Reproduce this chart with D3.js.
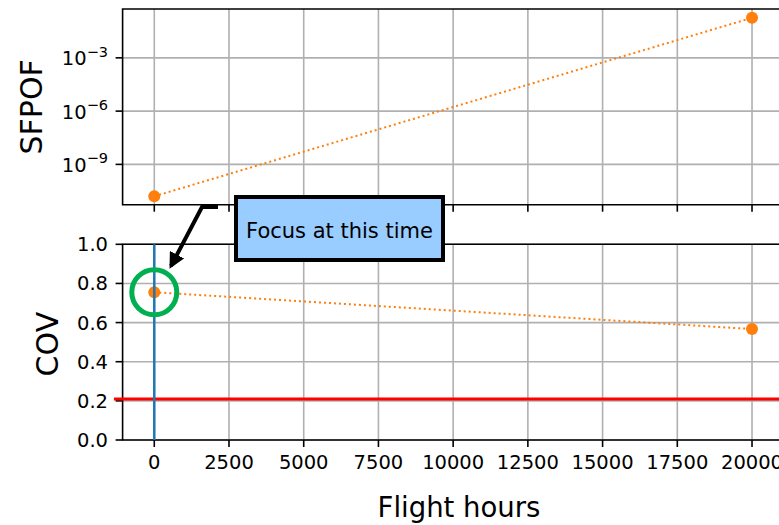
<!DOCTYPE html>
<html>
<head>
<meta charset="utf-8">
<script src="https://cdn.jsdelivr.net/npm/d3@7"></script>
<style>
  body { margin: 0; background: #fff; }
  text { font-family: "DejaVu Sans", sans-serif; fill: #000; }
</style>
</head>
<body>
<script>
// data
var hours = [0, 20000];
var sfpof = [1.6e-11, 0.18];
var cov = [0.755, 0.567];
var xTicks = [0, 2500, 5000, 7500, 10000, 12500, 15000, 17500, 20000];
var sfpofTicks = [-3, -6, -9];
var covTicks = [0, 0.2, 0.4, 0.6, 0.8, 1.0];
var covLimit = 0.21;
var focusHour = 0;
var focusLabel = "Focus at this time";

var width = 779, height = 525;

var svg = d3.select("body").append("svg")
    .attr("width", width)
    .attr("height", height);

// scales
var x = d3.scaleLinear().domain([-1060, 21060]).range([122.6, 783.7]);
var yTop = d3.scaleLog().domain([Math.pow(10, -11.27), Math.pow(10, -0.25)]).range([204.7, 9]);
var yBot = d3.scaleLinear().domain([0, 1]).range([440, 244.3]);

var grid = "#b0b0b0";
var orange = "#ff7f0e";

// grid lines top
var gTop = svg.append("g");
gTop.selectAll(".vg").data(xTicks).enter().append("line")
    .attr("x1", d => x(d)).attr("x2", d => x(d))
    .attr("y1", yTop.range()[1]).attr("y2", yTop.range()[0])
    .attr("stroke", grid).attr("stroke-width", 1.6);
gTop.selectAll(".hg").data(sfpofTicks).enter().append("line")
    .attr("x1", x.range()[0]).attr("x2", width)
    .attr("y1", d => yTop(Math.pow(10, d))).attr("y2", d => yTop(Math.pow(10, d)))
    .attr("stroke", grid).attr("stroke-width", 1.6);

// grid lines bottom
var gBot = svg.append("g");
gBot.selectAll(".vg").data(xTicks).enter().append("line")
    .attr("x1", d => x(d)).attr("x2", d => x(d))
    .attr("y1", yBot.range()[1]).attr("y2", yBot.range()[0])
    .attr("stroke", grid).attr("stroke-width", 1.6);
gBot.selectAll(".hg").data(covTicks).enter().append("line")
    .attr("x1", x.range()[0]).attr("x2", width)
    .attr("y1", d => yBot(d)).attr("y2", d => yBot(d))
    .attr("stroke", grid).attr("stroke-width", 1.6);

// spines
function spines(g, y) {
    var r = y.range();
    g.append("path")
        .attr("d", "M" + width + "," + r[1] + "H" + x.range()[0] + "V" + r[0] + "H" + width)
        .attr("fill", "none").attr("stroke", "#000").attr("stroke-width", 1.6);
}
spines(gTop, yTop);
spines(gBot, yBot);

// ticks
gTop.selectAll(".xt").data(xTicks).enter().append("line")
    .attr("x1", d => x(d)).attr("x2", d => x(d))
    .attr("y1", yTop.range()[0]).attr("y2", yTop.range()[0] + 7)
    .attr("stroke", "#000").attr("stroke-width", 1.6);
gBot.selectAll(".xt").data(xTicks).enter().append("line")
    .attr("x1", d => x(d)).attr("x2", d => x(d))
    .attr("y1", yBot.range()[0]).attr("y2", yBot.range()[0] + 7)
    .attr("stroke", "#000").attr("stroke-width", 1.6);
gBot.selectAll(".xl").data(xTicks).enter().append("text")
    .attr("x", d => x(d)).attr("y", yBot.range()[0] + 29)
    .attr("text-anchor", "middle").attr("font-size", 19.5)
    .text(d => d);

gTop.selectAll(".yt").data(sfpofTicks).enter().append("line")
    .attr("x1", x.range()[0] - 7).attr("x2", x.range()[0])
    .attr("y1", d => yTop(Math.pow(10, d))).attr("y2", d => yTop(Math.pow(10, d)))
    .attr("stroke", "#000").attr("stroke-width", 1.6);
var lt = gTop.selectAll(".yl").data(sfpofTicks).enter().append("text")
    .attr("x", 108).attr("y", d => yTop(Math.pow(10, d)) + 7.5)
    .attr("text-anchor", "end").attr("font-size", 19.5);
lt.append("tspan").text("10");
lt.append("tspan").attr("font-size", 14.5).attr("dy", -8.5).text(d => "\u2212" + (-d));

gBot.selectAll(".yt").data(covTicks).enter().append("line")
    .attr("x1", x.range()[0] - 7).attr("x2", x.range()[0])
    .attr("y1", d => yBot(d)).attr("y2", d => yBot(d))
    .attr("stroke", "#000").attr("stroke-width", 1.6);
gBot.selectAll(".yl").data(covTicks).enter().append("text")
    .attr("x", 108).attr("y", d => yBot(d) + 7)
    .attr("text-anchor", "end").attr("font-size", 19.5)
    .text(d => d.toFixed(1));

// axis labels
svg.append("text")
    .attr("transform", "translate(42," + (yTop(Math.pow(10, -5.76))) + ") rotate(-90)")
    .attr("text-anchor", "middle").attr("font-size", 30)
    .text("SFPOF");
svg.append("text")
    .attr("transform", "translate(58," + yBot(0.49) + ") rotate(-90)")
    .attr("text-anchor", "middle").attr("font-size", 30)
    .text("COV");
svg.append("text")
    .attr("x", 459).attr("y", 517)
    .attr("text-anchor", "middle").attr("font-size", 27.5)
    .text("Flight hours");

// top series
var pts = hours.map((h, i) => ({h: h, s: sfpof[i], c: cov[i]}));
gTop.append("path")
    .datum(pts)
    .attr("d", d3.line().x(d => x(d.h)).y(d => yTop(d.s)))
    .attr("fill", "none").attr("stroke", orange).attr("stroke-width", 2)
    .attr("stroke-dasharray", "2,3");
gTop.selectAll(".pt").data(pts).enter().append("circle")
    .attr("cx", d => x(d.h)).attr("cy", d => yTop(d.s)).attr("r", 6)
    .attr("fill", orange);

// bottom series
gBot.append("line")
    .attr("x1", x(-1350)).attr("x2", width)
    .attr("y1", yBot(covLimit)).attr("y2", yBot(covLimit))
    .attr("stroke", "#ff0000").attr("stroke-width", 3);
gBot.append("path")
    .datum(pts)
    .attr("d", d3.line().x(d => x(d.h)).y(d => yBot(d.c)))
    .attr("fill", "none").attr("stroke", orange).attr("stroke-width", 2)
    .attr("stroke-dasharray", "2,3");
gBot.selectAll(".pt").data(pts).enter().append("circle")
    .attr("cx", d => x(d.h)).attr("cy", d => yBot(d.c)).attr("r", 6)
    .attr("fill", orange);
gBot.append("line")
    .attr("x1", x(focusHour)).attr("x2", x(focusHour))
    .attr("y1", yBot.range()[1]).attr("y2", yBot.range()[0])
    .attr("stroke", "#1f77b4").attr("stroke-width", 2.5);
gBot.append("circle")
    .attr("cx", x(focusHour)).attr("cy", yBot(cov[0])).attr("r", 22.5)
    .attr("fill", "none").attr("stroke", "#00b050").attr("stroke-width", 5);

// annotation
svg.append("defs").append("marker")
    .attr("id", "head").attr("viewBox", "0 0 10 10")
    .attr("refX", 8).attr("refY", 5)
    .attr("markerWidth", 4).attr("markerHeight", 4)
    .attr("markerUnits", "strokeWidth")
    .attr("orient", "auto")
  .append("path").attr("d", "M0,0L10,5L0,10z").attr("fill", "#000");

svg.append("path")
    .attr("d", "M218,207H202L171,266")
    .attr("fill", "none").attr("stroke", "#000").attr("stroke-width", 4)
    .attr("marker-end", "url(#head)");

svg.append("rect")
    .attr("x", 236).attr("y", 197).attr("width", 207).attr("height", 63)
    .attr("fill", "#99ccff").attr("stroke", "#000").attr("stroke-width", 4);
svg.append("text")
    .attr("x", 339.5).attr("y", 238)
    .attr("text-anchor", "middle").attr("font-size", 21)
    .text(focusLabel);
</script>
</body>
</html>
